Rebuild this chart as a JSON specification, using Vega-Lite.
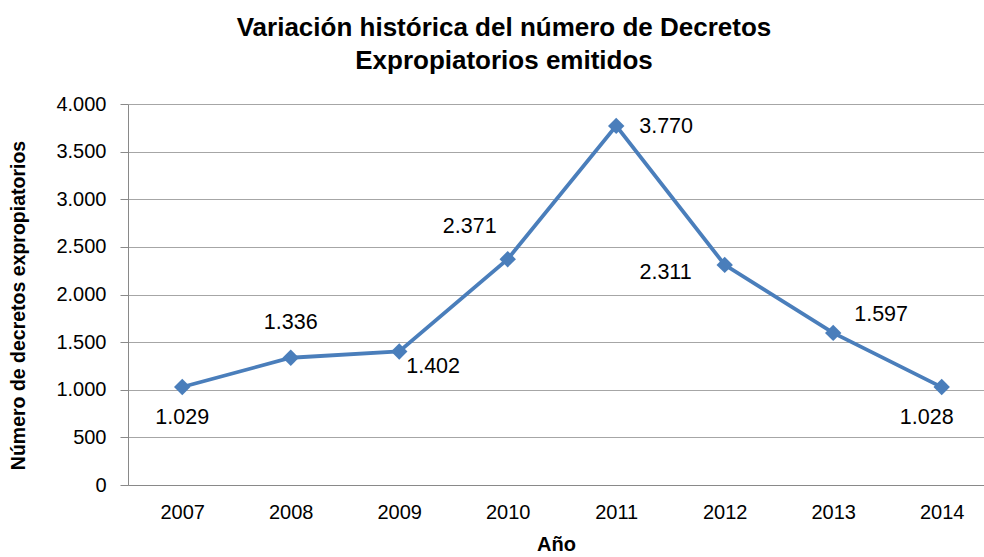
{
  "$schema": "https://vega.github.io/schema/vega-lite/v6.json",
  "width": 856,
  "height": 381,
  "autosize": "none",
  "padding": {"left": 128, "top": 104, "right": 0, "bottom": 72},
  "background": "white",
  "config": {
    "locale": {"number": {"decimal": ",", "thousands": ".", "grouping": [3], "currency": ["", " €"]}},
    "view": {"stroke": null},
    "font": "Liberation Sans"
  },
  "title": {
    "text": ["Variación histórica del número de Decretos", "Expropiatorios emitidos"],
    "font": "Liberation Sans",
    "fontWeight": "bold",
    "fontSize": 26,
    "lineHeight": 33,
    "color": "#000000",
    "anchor": "middle",
    "dx": -52,
    "offset": 20
  },
  "data": {
    "values": [
      {"year": 2007, "value": 1029},
      {"year": 2008, "value": 1336},
      {"year": 2009, "value": 1402},
      {"year": 2010, "value": 2371},
      {"year": 2011, "value": 3770},
      {"year": 2012, "value": 2311},
      {"year": 2013, "value": 1597},
      {"year": 2014, "value": 1028}
    ]
  },
  "encoding": {
    "x": {
      "field": "year",
      "type": "quantitative",
      "scale": {"domain": [2006.5, 2014.39], "nice": false, "zero": false},
      "axis": {
        "values": [2007, 2008, 2009, 2010, 2011, 2012, 2013, 2014],
        "format": "d",
        "grid": false,
        "ticks": false,
        "domainColor": "#898989",
        "labelFontSize": 20,
        "labelColor": "#000000",
        "labelPadding": 17,
        "title": "Año",
        "titleFontSize": 20,
        "titleFontWeight": "bold",
        "titleColor": "#000000",
        "titlePadding": 12
      }
    },
    "y": {
      "field": "value",
      "type": "quantitative",
      "scale": {"domain": [0, 4000], "nice": false},
      "axis": {
        "values": [0, 500, 1000, 1500, 2000, 2500, 3000, 3500, 4000],
        "format": ",.0f",
        "tickSize": 8,
        "tickColor": "#898989",
        "gridColor": "#A6A6A6",
        "domainColor": "#898989",
        "labelFontSize": 20,
        "labelColor": "#000000",
        "labelPadding": 14,
        "title": "Número de decretos expropiatorios",
        "titleFontSize": 19.5,
        "titleFontWeight": "bold",
        "titleColor": "#000000",
        "titlePadding": 27,
        "titleY": 201
      }
    }
  },
  "layer": [
    {"mark": {"type": "line", "color": "#4A7EBB", "strokeWidth": 3.8}},
    {"mark": {"type": "point", "shape": "diamond", "filled": true, "size": 270, "color": "#4A7EBB", "opacity": 1}},
    {
      "transform": [{"filter": "datum.year == 2007"}],
      "mark": {"type": "text", "fontSize": 21.5, "align": "center", "baseline": "middle", "dy": 31, "color": "#000000"},
      "encoding": {"text": {"field": "value", "type": "quantitative", "format": ",.0f"}}
    },
    {
      "transform": [{"filter": "datum.year == 2014"}],
      "mark": {"type": "text", "fontSize": 21.5, "align": "center", "baseline": "middle", "dx": -15, "dy": 31, "color": "#000000"},
      "encoding": {"text": {"field": "value", "type": "quantitative", "format": ",.0f"}}
    },
    {
      "transform": [{"filter": "datum.year == 2008"}],
      "mark": {"type": "text", "fontSize": 21.5, "align": "center", "baseline": "middle", "dy": -35, "color": "#000000"},
      "encoding": {"text": {"field": "value", "type": "quantitative", "format": ",.0f"}}
    },
    {
      "transform": [{"filter": "datum.year == 2009"}],
      "mark": {"type": "text", "fontSize": 21.5, "align": "left", "baseline": "middle", "dx": 7, "dy": 16, "color": "#000000"},
      "encoding": {"text": {"field": "value", "type": "quantitative", "format": ",.0f"}}
    },
    {
      "transform": [{"filter": "datum.year == 2010"}],
      "mark": {"type": "text", "fontSize": 21.5, "align": "center", "baseline": "middle", "dx": -38, "dy": -32, "color": "#000000"},
      "encoding": {"text": {"field": "value", "type": "quantitative", "format": ",.0f"}}
    },
    {
      "transform": [{"filter": "datum.year == 2011"}],
      "mark": {"type": "text", "fontSize": 21.5, "align": "left", "baseline": "middle", "dx": 23, "dy": 1, "color": "#000000"},
      "encoding": {"text": {"field": "value", "type": "quantitative", "format": ",.0f"}}
    },
    {
      "transform": [{"filter": "datum.year == 2012"}],
      "mark": {"type": "text", "fontSize": 21.5, "align": "right", "baseline": "middle", "dx": -33, "dy": 8, "color": "#000000"},
      "encoding": {"text": {"field": "value", "type": "quantitative", "format": ",.0f"}}
    },
    {
      "transform": [{"filter": "datum.year == 2013"}],
      "mark": {"type": "text", "fontSize": 21.5, "align": "left", "baseline": "middle", "dx": 21, "dy": -18, "color": "#000000"},
      "encoding": {"text": {"field": "value", "type": "quantitative", "format": ",.0f"}}
    }
  ]
}
